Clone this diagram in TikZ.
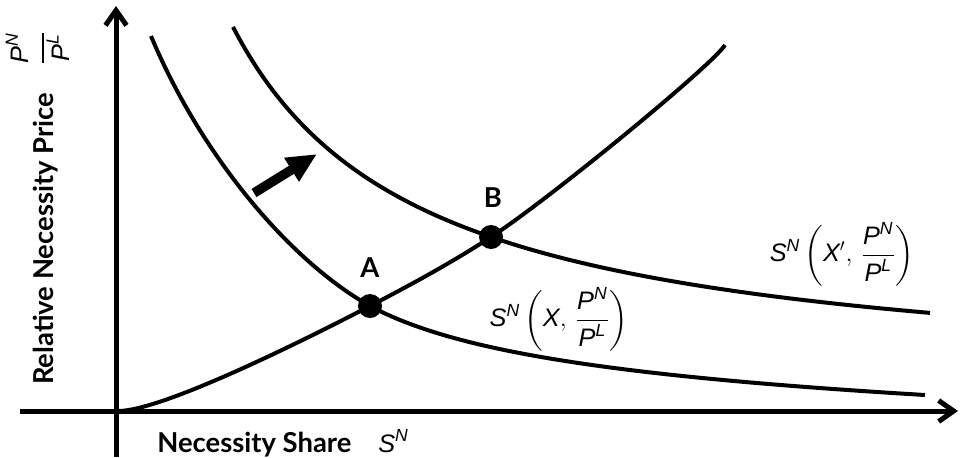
\documentclass[tikz,border=0pt]{standalone}
\usepackage{fontspec}
\usepackage{amsmath}
\setmainfont{Lato}
\newfontfamily\lsans{Liberation Sans}
\usetikzlibrary{arrows.meta}
\newcommand\vi[1]{\text{\lsans\itshape\mdseries #1}}
\begin{document}
\begin{tikzpicture}[x=0.02cm,y=-0.02cm,
  curve/.style={line width=0.08cm},
  axis/.style={line width=0.1cm, -{Straight Barb[length=0.3cm,width=0.42cm]}},
  lbl/.style={font=\fontsize{15.6}{18}\selectfont\bfseries, inner sep=0},
  amath/.style={font=\fontsize{14.4}{17}\selectfont, inner sep=0},
  mlab/.style={font=\fontsize{14.4}{17}\selectfont, inner sep=0},
  dot/.style={circle, fill, inner sep=0, minimum size=0.48cm}]
\useasboundingbox (0,0) rectangle (962,457);
\coordinate (xs) at (20,411); \coordinate (xe) at (958,411);
\coordinate (ys) at (116,457); \coordinate (ye) at (116,6);
\draw[axis] (xs) -- (xe);
\draw[axis] (ys) -- (ye);
% points
\coordinate (Apt) at (370,306);
\coordinate (Bpt) at (491,237);
% curves
\coordinate (c1s) at (151,36); \coordinate (c1e) at (925,395);
\draw[curve] (c1s) .. controls (199.2,151.6) and (286.8,259.2) .. (Apt)
  .. controls (453.3,350.8) and (608.7,376) .. (c1e);
\draw[curve] plot[domain=233:930, samples=160] (\x, {390-682.48/((\x-45)/100)});
\coordinate (ss) at (118,411); \coordinate (se) at (725,45);
\draw[curve] (ss) .. controls (163,411) and (309.4,337.5) .. (Apt)
  .. controls (410.3,285.0) and (450.7,263.2) .. (Bpt)
  .. controls (548.6,199.6) and (712.4,65.2) .. (se);
\node[dot] (A) at (Apt) {};
\node[dot] (B) at (Bpt) {};
\node[lbl] (Alab) at (370,268) {A};
\node[lbl] (Blab) at (493,198) {B};
% shift arrow
\coordinate (ta) at (254,193); \coordinate (tb) at (317,154);
\draw[line width=0.19cm, -{Triangle[length=0.6cm,width=0.52cm]}] (ta) -- (tb);
% curve labels
\node[mlab] (l1) at (559,319) {$\vi{S}^{\vi{N}}\left(\vi{X},\, \dfrac{\vi{P}^{\vi{N}}}{\vi{P}^{\vi{L}}}\right)$};
\node[mlab] (l2) at (842,254) {$\vi{S}^{\vi{N}}\left(\vi{X}',\, \dfrac{\vi{P}^{\vi{N}}}{\vi{P}^{\vi{L}}}\right)$};
% axis labels
\node[lbl, anchor=base west] (xl) at (157,452) {Necessity Share};
\node[amath, anchor=base west] (xm) at (378,452) {$\vi{S}^{\vi{N}}$};
\node[lbl, anchor=base, rotate=90] (yl) at (53,239) {Relative Necessity Price};
\node[amath, rotate=90] (ym) at (37.5,48) {$\dfrac{\vi{P}^{\vi{N}}\rule[-0.22cm]{0pt}{0pt}}{\vi{P}^{\vi{L}}}$};
\end{tikzpicture}
\end{document}
